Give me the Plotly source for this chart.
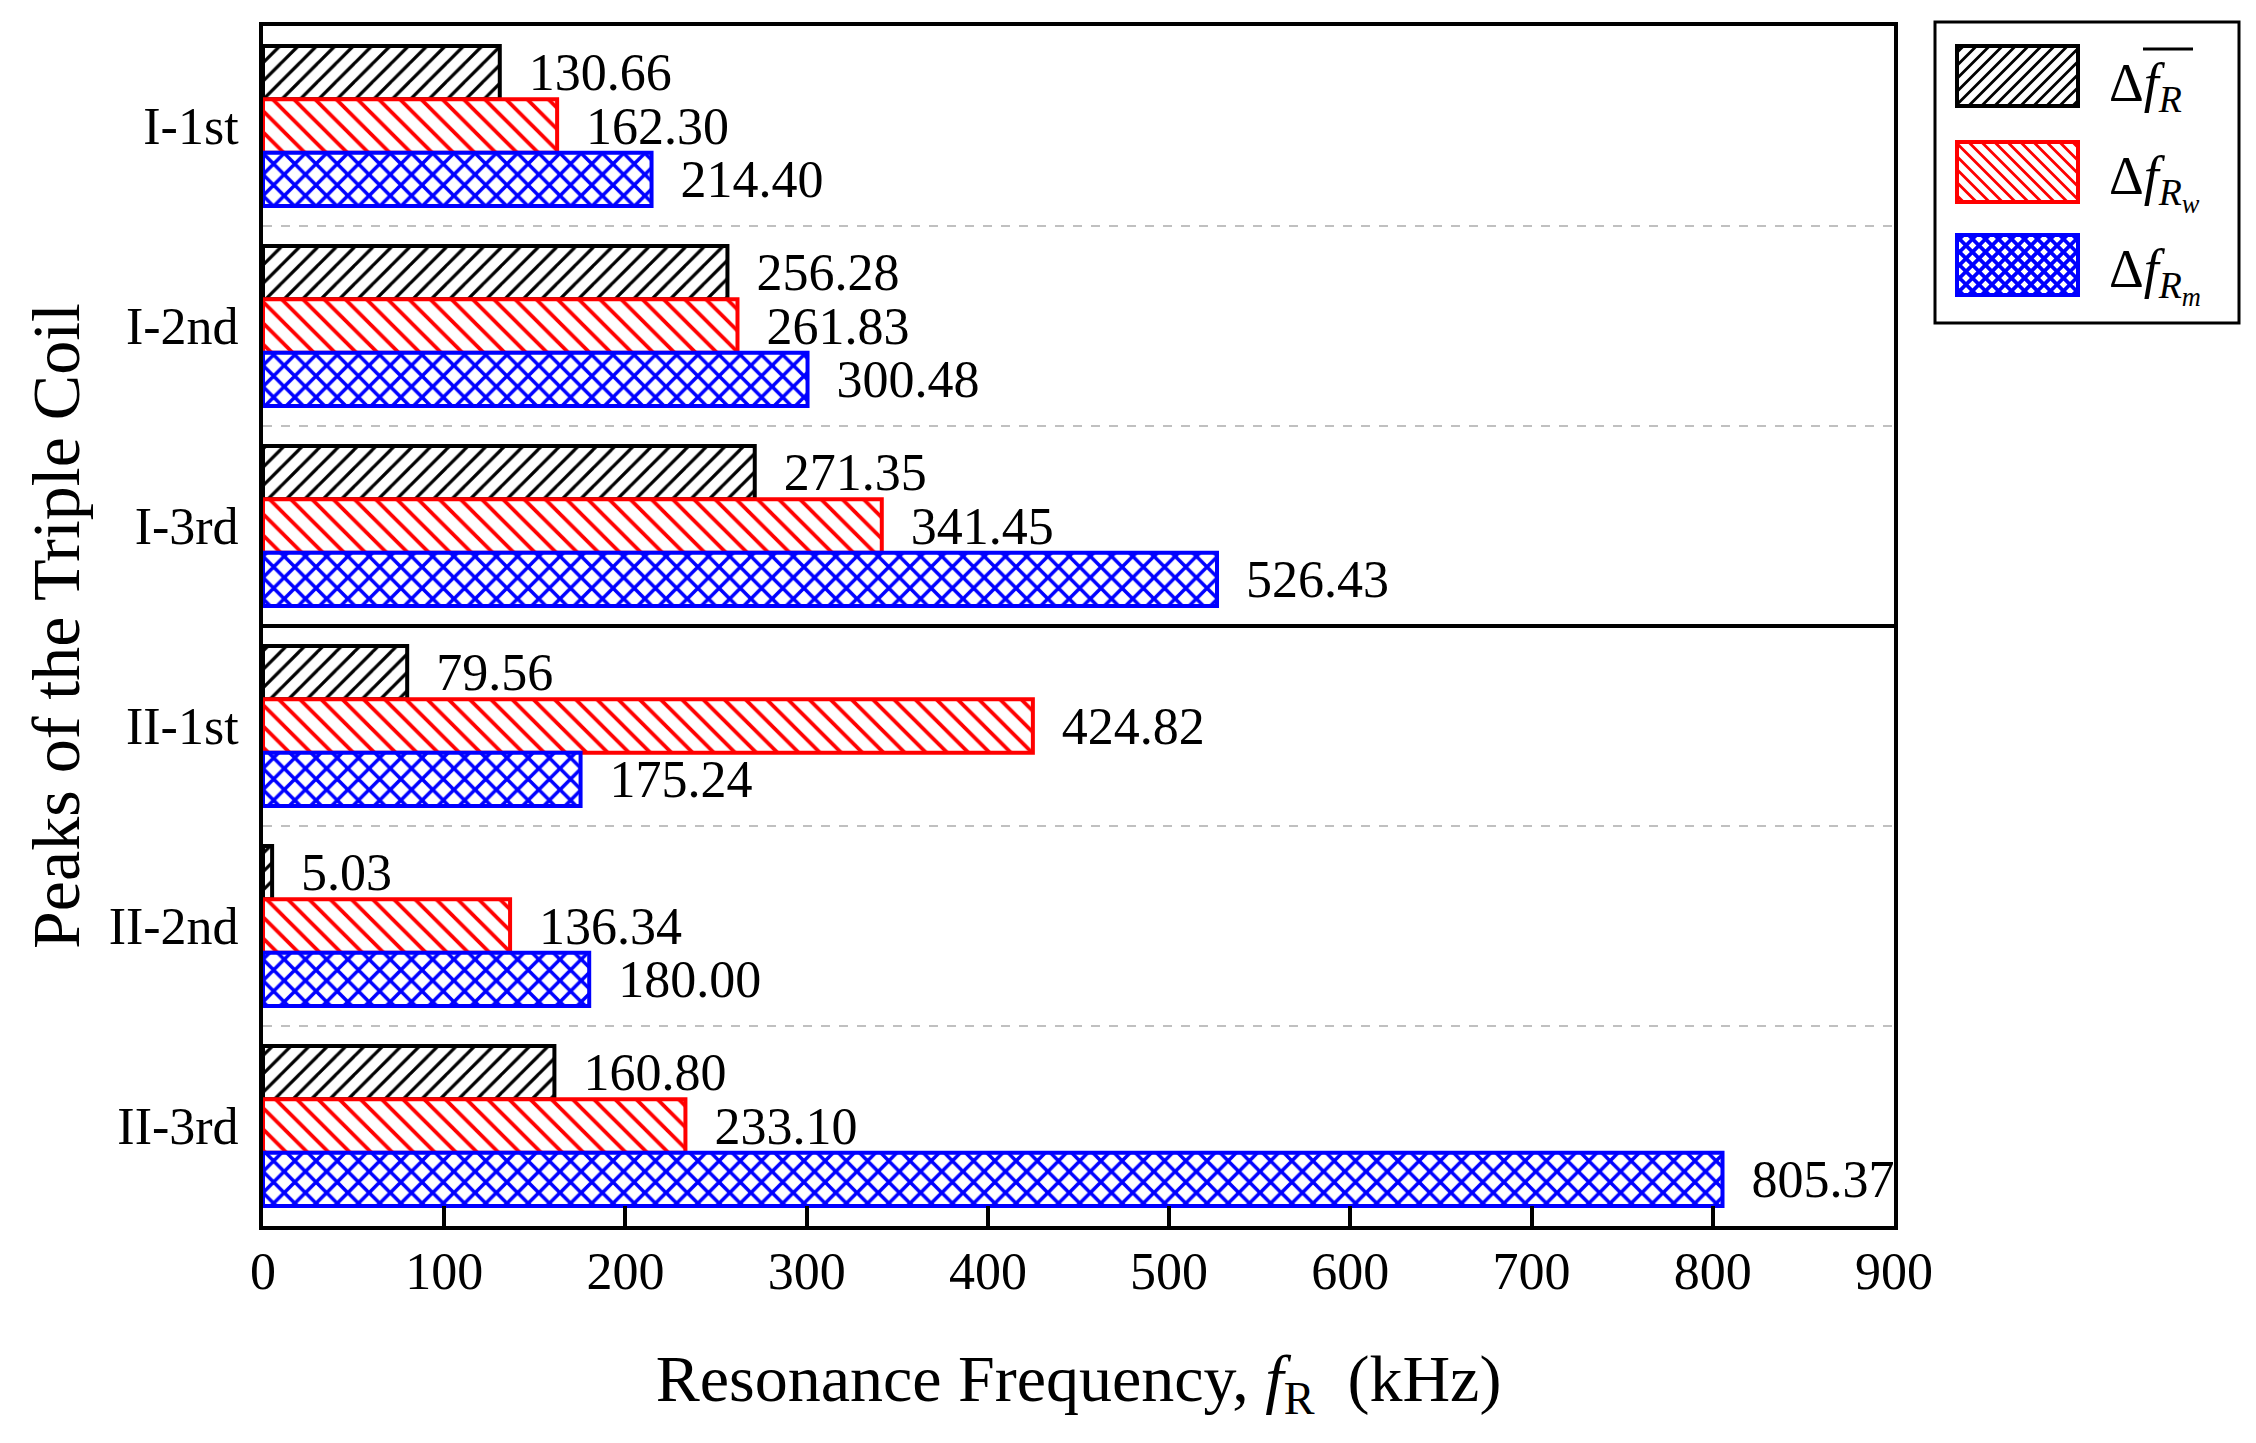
import plotly.graph_objects as go

# ---------------- data ----------------
categories = ["I-1st", "I-2nd", "I-3rd", "II-1st", "II-2nd", "II-3rd"]
delta_fR_mean = [130.66, 256.28, 271.35, 79.56, 5.03, 160.80]
delta_fR_w = [162.30, 261.83, 341.45, 424.82, 136.34, 233.10]
delta_fR_m = [214.40, 300.48, 526.43, 175.24, 180.00, 805.37]
x_tick_values = [0, 100, 200, 300, 400, 500, 600, 700, 800, 900]
legend_labels = [
    "Δ<i>f</i><sub><i>R</i></sub>",
    "Δ<i>f</i><sub><i>R<sub>w</sub></i></sub>",
    "Δ<i>f</i><sub><i>R<sub>m</sub></i></sub>",
]

# ---------------- layout constants ----------------
W, H = 2256, 1443
OFF = 7  # page body margin
L, R, T, B = 262 - OFF, W - 1893 + OFF, 25 - OFF, H - 1225 + OFF
PW, PH = W - L - R, H - T - B
FONT = "Times New Roman, Liberation Serif, serif"

series = [
    (delta_fR_mean, "black", "/", 13, 0.25),
    (delta_fR_w, "red", "\\", 15, 0.25),
    (delta_fR_m, "blue", "x", 15, 0.42),
]

fig = go.Figure()
for vals, col, shp, sz, sol in series:
    fig.add_trace(go.Bar(
        y=categories, x=vals, orientation="h",
        marker=dict(color="white", line=dict(color=col, width=4),
                    pattern=dict(shape=shp, fgcolor=col, bgcolor="white",
                                 size=sz, solidity=sol, fillmode="replace")),
        texttemplate="\u00a0\u00a0%{x:.2f}", textposition="outside",
        textfont=dict(family=FONT, size=52, color="black"),
        constraintext="none", cliponaxis=False, showlegend=False,
    ))

fig.update_layout(
    width=W, height=H, margin=dict(l=L, r=R, t=T, b=B),
    paper_bgcolor="white", plot_bgcolor="white",
    barmode="group", bargap=0.2, bargroupgap=0,
    font=dict(family=FONT, color="black"),
    showlegend=False,
)
fig.update_xaxes(
    range=[0, 900], tickvals=x_tick_values, ticks="inside", ticklen=20,
    tickwidth=4, tickcolor="black", showline=True, linewidth=4,
    linecolor="black", mirror=True, showgrid=False, zeroline=False,
    tickfont=dict(family=FONT, size=52, color="black"),
    ticklabelstandoff=-3,
    title=dict(text="Resonance Frequency, <i>f</i><sub>R</sub>\u00a0 (kHz)",
               font=dict(family=FONT, size=66, color="black"), standoff=56),
)
fig.update_yaxes(
    type="category", categoryorder="array", categoryarray=categories,
    autorange="reversed", tickson="boundaries", ticks="",
    showgrid=True, gridcolor="#c0c0c0", griddash="dash", gridwidth=2,
    showline=True, linewidth=4, linecolor="black", mirror=True,
    zeroline=False,
    tickfont=dict(family=FONT, size=52, color="black"),
    ticklabelstandoff=10,
    title=dict(text="Peaks of the Triple Coil",
               font=dict(family=FONT, size=68, color="black"), standoff=8),
)

# solid separator between group I and group II
fig.add_shape(type="line", xref="paper", x0=0, x1=1, yref="y",
              y0=2.5, y1=2.5, line=dict(color="black", width=4))


# ---------------- custom legend (pixel positions in the picture) ----------------
def px(x):
    return (x - OFF - L) / PW


def py(y):
    return 1 - (y - OFF - T) / PH


def hatch(x0, y0, x1, y1, sp, direction):
    segs = []
    if direction == "/":
        c = x0 + y0 + sp / 2
        while c < x1 + y1:
            xa, xb = max(x0, c - y1), min(x1, c - y0)
            if xa < xb:
                segs.append(f"M{px(xa)},{py(c - xa)}L{px(xb)},{py(c - xb)}")
            c += sp
    else:
        c = x0 - y1 + sp / 2
        while c < x1 - y0:
            xa, xb = max(x0, c + y0), min(x1, c + y1)
            if xa < xb:
                segs.append(f"M{px(xa)},{py(xa - c)}L{px(xb)},{py(xb - c)}")
            c += sp
    return " ".join(segs)


fig.add_shape(type="rect", xref="paper", yref="paper",
              x0=px(1934), x1=px(2238), y0=py(21), y1=py(322),
              line=dict(color="black", width=3), fillcolor="white")

swatches = [(45, "black", ["/"], 13, 2.8), (141, "red", ["\\"], 13, 2.8),
            (234, "blue", ["/", "\\"], 13, 3.8)]
for (ytop, col, dirs, sp, lw), lab in zip(swatches, legend_labels):
    x0, x1, y0, y1 = 1956, 2077, ytop, ytop + 60
    for d in dirs:
        fig.add_shape(type="path", xref="paper", yref="paper",
                      path=hatch(x0, y0, x1, y1, sp, d),
                      line=dict(color=col, width=lw))
    fig.add_shape(type="rect", xref="paper", yref="paper",
                  x0=px(x0), x1=px(x1), y0=py(y0), y1=py(y1),
                  line=dict(color=col, width=4))
    fig.add_annotation(xref="paper", yref="paper", x=px(2106),
                       y=py(ytop + 40), xanchor="left", yanchor="middle",
                       text=lab, showarrow=False,
                       font=dict(family=FONT, size=54, color="black"))

# overline of the mean symbol
fig.add_shape(type="line", xref="paper", yref="paper",
              x0=px(2142), x1=px(2192), y0=py(48), y1=py(48),
              line=dict(color="black", width=3))

fig.write_html("out.html")
